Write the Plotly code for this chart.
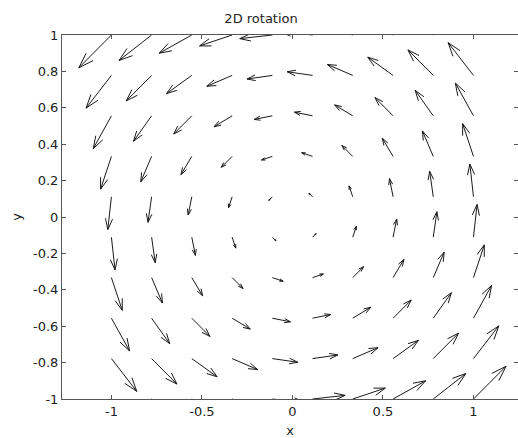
import math
import plotly.graph_objects as go
import plotly.figure_factory as ff

# Grid positions of the arrow tails (10 x 10)
x_vals = [-1.0, -0.778, -0.556, -0.333, -0.111, 0.111, 0.333, 0.556, 0.778, 1.0]
y_vals = [-1.0, -0.778, -0.556, -0.333, -0.111, 0.111, 0.333, 0.556, 0.778, 1.0]

# Vector components; row i corresponds to y_vals[i], column j to x_vals[j]
u_field = [
    [1.0, 1.0, 1.0, 1.0, 1.0, 1.0, 1.0, 1.0, 1.0, 1.0],
    [0.778, 0.778, 0.778, 0.778, 0.778, 0.778, 0.778, 0.778, 0.778, 0.778],
    [0.556, 0.556, 0.556, 0.556, 0.556, 0.556, 0.556, 0.556, 0.556, 0.556],
    [0.333, 0.333, 0.333, 0.333, 0.333, 0.333, 0.333, 0.333, 0.333, 0.333],
    [0.111, 0.111, 0.111, 0.111, 0.111, 0.111, 0.111, 0.111, 0.111, 0.111],
    [-0.111, -0.111, -0.111, -0.111, -0.111, -0.111, -0.111, -0.111, -0.111, -0.111],
    [-0.333, -0.333, -0.333, -0.333, -0.333, -0.333, -0.333, -0.333, -0.333, -0.333],
    [-0.556, -0.556, -0.556, -0.556, -0.556, -0.556, -0.556, -0.556, -0.556, -0.556],
    [-0.778, -0.778, -0.778, -0.778, -0.778, -0.778, -0.778, -0.778, -0.778, -0.778],
    [-1.0, -1.0, -1.0, -1.0, -1.0, -1.0, -1.0, -1.0, -1.0, -1.0],
]
v_field = [
    [-1.0, -0.778, -0.556, -0.333, -0.111, 0.111, 0.333, 0.556, 0.778, 1.0],
    [-1.0, -0.778, -0.556, -0.333, -0.111, 0.111, 0.333, 0.556, 0.778, 1.0],
    [-1.0, -0.778, -0.556, -0.333, -0.111, 0.111, 0.333, 0.556, 0.778, 1.0],
    [-1.0, -0.778, -0.556, -0.333, -0.111, 0.111, 0.333, 0.556, 0.778, 1.0],
    [-1.0, -0.778, -0.556, -0.333, -0.111, 0.111, 0.333, 0.556, 0.778, 1.0],
    [-1.0, -0.778, -0.556, -0.333, -0.111, 0.111, 0.333, 0.556, 0.778, 1.0],
    [-1.0, -0.778, -0.556, -0.333, -0.111, 0.111, 0.333, 0.556, 0.778, 1.0],
    [-1.0, -0.778, -0.556, -0.333, -0.111, 0.111, 0.333, 0.556, 0.778, 1.0],
    [-1.0, -0.778, -0.556, -0.333, -0.111, 0.111, 0.333, 0.556, 0.778, 1.0],
    [-1.0, -0.778, -0.556, -0.333, -0.111, 0.111, 0.333, 0.556, 0.778, 1.0],
]

x_tick_vals = [-1, -0.5, 0, 0.5, 1]
x_tick_text = ["-1", "-0.5", "0", "0.5", "1"]
y_tick_vals = [-1, -0.8, -0.6, -0.4, -0.2, 0, 0.2, 0.4, 0.6, 0.8, 1]
y_tick_text = ["-1", "-0.8", "-0.6", "-0.4", "-0.2", "0", "0.2", "0.4", "0.6", "0.8", "1"]

# flatten grid for the quiver factory
xs, ys, us, vs = [], [], [], []
for i, yv in enumerate(y_vals):
    for j, xv in enumerate(x_vals):
        xs.append(xv)
        ys.append(yv)
        us.append(u_field[i][j])
        vs.append(v_field[i][j])

quiv = ff.create_quiver(xs, ys, us, vs, scale=0.18,
                        arrow_scale=0.348, angle=math.atan(0.33),
                        line=dict(color="#1a1a1a", width=1))

fig = go.Figure(quiv)
fig.update_traces(hoverinfo="skip", showlegend=False)
# invisible trace to host right-side tick axis
fig.add_trace(go.Scatter(x=[0], y=[0], yaxis="y2", mode="markers",
                         marker=dict(opacity=0), hoverinfo="skip", showlegend=False))

axis_color = "#555555"
text_color = "#222222"
font_family = "DejaVu Sans"

fig.update_layout(
    width=518, height=438,
    margin=dict(l=62, r=0, t=35, b=39),
    paper_bgcolor="white", plot_bgcolor="white",
    showlegend=False,
    title=dict(text="2D rotation", x=0.504, xanchor="center", y=0.957, yanchor="middle",
               font=dict(family=font_family, size=13, color=text_color)),
    font=dict(family=font_family, size=13, color=text_color),
    xaxis=dict(range=[-1.273, 1.246], tickvals=x_tick_vals, ticktext=x_tick_text,
               ticks="inside", ticklen=4, tickcolor=axis_color,
               showline=True, linecolor=axis_color, linewidth=1, mirror="ticks",
               showgrid=False, zeroline=False, automargin=False,
               title=dict(text="x", standoff=10, font=dict(size=13))),
    yaxis=dict(range=[-1, 1], tickvals=y_tick_vals, ticktext=y_tick_text,
               ticks="inside", ticklen=4, tickcolor=axis_color,
               showline=True, linecolor=axis_color, linewidth=1, mirror=False,
               showgrid=False, zeroline=False, automargin=False,
               title=dict(text="y", standoff=8, font=dict(size=13))),
    yaxis2=dict(range=[-1, 1], overlaying="y", side="right", tickvals=y_tick_vals,
                ticks="inside", ticklen=4, tickcolor=axis_color, showticklabels=False,
                showline=False, showgrid=False, zeroline=False, automargin=False),
)

fig.write_html("out.html",
               config={"displayModeBar": False},
               post_script="document.body.style.margin='0px';document.body.style.overflow='hidden';")
